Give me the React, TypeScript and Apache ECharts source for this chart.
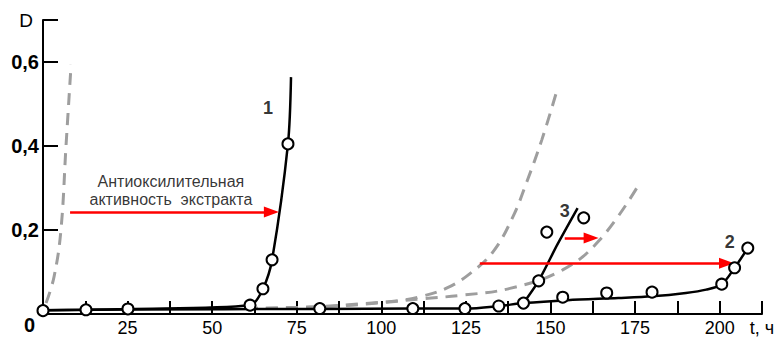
import React, { useEffect, useRef } from "react";
import * as echarts from "echarts";

// Curve 1 (line + circles)
const line1T = [0, 12.7, 25.1, 61.2, 65, 67.7, 72.4, 73.3];
const line1D = [0.009, 0.01, 0.012, 0.021, 0.06, 0.129, 0.405, 0.564];
const circ1T = [0, 12.7, 25.1, 61.2, 65, 67.7, 72.4];
const circ1D = [0.008, 0.01, 0.012, 0.021, 0.06, 0.129, 0.405];

// Curve 2 (line from origin, shared baseline)
const line2T = [0, 25, 82, 109, 125, 134.7, 142, 155, 170, 180, 190, 196, 200.6, 204.4, 208.3];
const line2D = [0.009, 0.011, 0.012, 0.013, 0.013, 0.019, 0.026, 0.033, 0.038, 0.042, 0.05, 0.058, 0.071, 0.11, 0.157];
const circBaseT = [81.8, 109.3, 124.7, 134.7, 142];
const circBaseD = [0.013, 0.013, 0.013, 0.019, 0.026];
const circ2T = [153.6, 166.6, 180, 200.6, 204.4, 208.3];
const circ2D = [0.04, 0.05, 0.052, 0.071, 0.11, 0.157];

// Curve 3
const line3T = [142, 146.5, 152, 158];
const line3D = [0.026, 0.079, 0.165, 0.252];
const circ3T = [146.5, 148.9, 159.8];
const circ3D = [0.079, 0.195, 0.229];

// Gray dashed curves
const dashAT = [0.9, 3.25, 5.3, 6.8, 8.3];
const dashAD = [0.026, 0.088, 0.2, 0.4, 0.593];
const dashBT = [60, 80, 95, 105, 111.4, 119.4, 126, 133, 138.8, 143, 147.4, 151.6];
const dashBD = [0.013, 0.017, 0.025, 0.032, 0.041, 0.062, 0.095, 0.148, 0.23, 0.315, 0.414, 0.524];
const dashCT = [60, 85, 100, 113, 123, 138, 153.6, 164.5, 175.5];
const dashCD = [0.013, 0.018, 0.027, 0.037, 0.044, 0.061, 0.105, 0.176, 0.3];

// Red arrows [t start, t end, D]
const arrowStartT = [8, 129.1, 154.2];
const arrowEndT = [67.5, 202, 162];
const arrowD = [0.243, 0.121, 0.181];

// Curve number labels
const curveNames = ["1", "2", "3"];
const curveNameT = [66.5, 203, 154.2];
const curveNameD = [0.49, 0.171, 0.245];

const noteText = "Антиоксилительная\nактивность  экстракта";
const noteT = 37.8;
const noteD = 0.293;

const xTickLabels = [25, 50, 75, 100, 125, 150, 175, 200];
const xAxisName = "t, ч";
const yTickValues = [0.2, 0.4, 0.6, 0.7];
const yLabelValues = [0, 0.2, 0.4, 0.6, 0.7];
const yAxisName = "D";

const FONT = "'Liberation Sans', Arial, sans-serif";

const zip = (a: number[], b: number[]) => a.map((v, i) => [v, b[i]]);

export default function App() {
  const ref = useRef<HTMLDivElement>(null);
  useEffect(() => {
    if (!ref.current) return;
    const chart = echarts.init(ref.current, null, { renderer: "svg" });
    const blackLine = (data: number[][], smooth: number | boolean) => ({
      type: "line",
      data,
      smooth,
      showSymbol: false,
      symbol: "none",
      silent: true,
      lineStyle: { color: "#000", width: 2.5 },
      z: 3,
    });
    const dashed = (data: number[][]) => ({
      type: "line",
      data,
      smooth: 0.4,
      symbol: "none",
      silent: true,
      lineStyle: { color: "#9e9e9e", width: 3, type: [12, 8] },
      z: 2,
    });
    const circles = (data: number[][]) => ({
      type: "scatter",
      data,
      symbol: "circle",
      symbolSize: 11,
      silent: true,
      itemStyle: { color: "#fff", borderColor: "#000", borderWidth: 2, opacity: 1 },
      z: 5,
    });
    const option: any = {
      animation: false,
      grid: {
        left: 43,
        right: 14,
        top: 20,
        bottom: 24,
        containLabel: false,
        outerBoundsMode: "none",
      },
      xAxis: {
        type: "value",
        min: 0,
        max: 212.5,
        interval: 12.5,
        axisLine: { lineStyle: { color: "#000", width: 2 } },
        axisTick: { inside: true, length: 13, lineStyle: { color: "#000", width: 2 } },
        splitLine: { show: false },
        axisLabel: {
          margin: 5,
          color: "#000",
          fontSize: 18,
          fontFamily: FONT,
          showMaxLabel: true,
          showMinLabel: true,
          hideOverlap: false,
          formatter: (v: number) => {
            if (Math.abs(v - 212.5) < 1e-6) return xAxisName;
            return xTickLabels.some((t) => Math.abs(t - v) < 1e-6) ? String(v) : "";
          },
        },
      },
      yAxis: {
        type: "value",
        min: 0,
        max: 0.7,
        axisLine: { show: true, lineStyle: { color: "#000", width: 2 } },
        axisTick: {
          show: true,
          inside: true,
          length: 15,
          customValues: yTickValues,
          lineStyle: { color: "#000", width: 2 },
        },
        splitLine: { show: false },
        axisLabel: {
          margin: 4,
          color: "#000",
          fontSize: 20,
          fontWeight: "bold",
          fontFamily: FONT,
          customValues: yLabelValues,
          formatter: (v: number) => {
            if (Math.abs(v - 0.7) < 1e-6) return "{d|" + yAxisName + "}";
            if (Math.abs(v) < 1e-6) return "{z|0}";
            return "{b|" + v.toFixed(1).replace(".", ",") + "}";
          },
          rich: {
            b: { fontSize: 20, fontWeight: "bold", fontFamily: FONT, color: "#000" },
            d: { fontSize: 19, fontWeight: "normal", fontFamily: FONT, color: "#000", padding: [0, 6, 0, 0] },
            z: { fontSize: 20, fontWeight: "bold", fontFamily: FONT, color: "#000", padding: [22, 4, 0, 0] },
          },
        },
      },
      series: [
        dashed(zip(dashAT, dashAD)),
        dashed(zip(dashBT, dashBD)),
        dashed(zip(dashCT, dashCD)),
        blackLine(zip(line2T, line2D), 0.3),
        blackLine(zip(line1T, line1D), 0.3),
        blackLine(zip(line3T, line3D), 0.2),
        circles(zip(circ1T, circ1D)),
        circles(zip(circBaseT, circBaseD)),
        circles(zip(circ2T, circ2D)),
        circles(zip(circ3T, circ3D)),
        {
          type: "line",
          data: [],
          silent: true,
          z: 4,
          markLine: {
            silent: true,
            animation: false,
            symbol: ["none", "triangle"],
            symbolSize: [11, 15],
            label: { show: false },
            lineStyle: { color: "#ff0000", width: 2.5, type: "solid" },
            emphasis: { disabled: true },
            data: arrowD.map((d, i) => [
              { coord: [arrowStartT[i], d] },
              { coord: [arrowEndT[i], d] },
            ]),
          },
        },
        {
          type: "scatter",
          silent: true,
          symbolSize: 0,
          z: 6,
          data: curveNames.map((n, i) => ({ name: n, value: [curveNameT[i], curveNameD[i]] })),
          label: {
            show: true,
            position: "inside",
            formatter: (p: any) => p.name,
            color: "#000",
            fontSize: 18,
            fontWeight: "bold",
            fontFamily: FONT,
          },
        },
        {
          type: "scatter",
          silent: true,
          symbolSize: 0,
          z: 6,
          data: [{ name: noteText, value: [noteT, noteD] }],
          label: {
            show: true,
            position: "inside",
            formatter: (p: any) => p.name,
            color: "#000",
            fontSize: 16,
            lineHeight: 18,
            align: "center",
            fontFamily: FONT,
          },
        },
      ],
    };
    chart.setOption(option);
    return () => chart.dispose();
  }, []);
  return (
    <div
      ref={ref}
      style={{ position: "fixed", left: 0, top: 0, width: 776, height: 338, background: "#fff" }}
    />
  );
}
